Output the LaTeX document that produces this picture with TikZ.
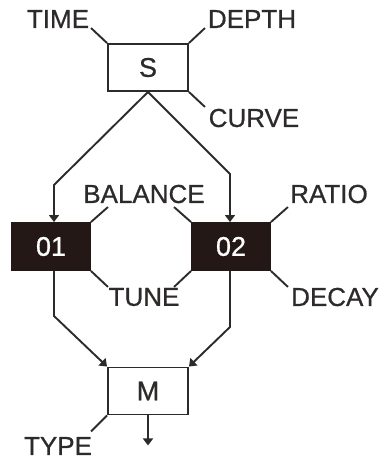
\documentclass[tikz,border=0pt]{standalone}
\usepackage{fontspec}
\setmainfont{Liberation Sans}
\newfontfamily\fxfont[FakeBold=0.7]{Liberation Sans}
\usepackage{xcolor}
\usepackage{tikz}
\usetikzlibrary{arrows.meta,positioning,calc}
\definecolor{fxline}{RGB}{45,42,42}
\definecolor{fxblack}{RGB}{35,24,21}

\begin{document}
\begin{tikzpicture}[x=1pt, y=-1pt,
    unit/.style={rectangle, draw=fxline, line width=1.9pt, fill=white, minimum width=80pt, minimum height=47pt, text=fxline, font=\fxfont\fontsize{27}{30}\selectfont},
    fxbox/.style={rectangle, draw=fxblack, line width=1.9pt, fill=fxblack, minimum width=78pt, minimum height=47pt, text=white, font=\fxfont\fontsize{27}{30}\selectfont},
    param/.style={inner sep=0pt, text=fxline, font=\fxfont\fontsize{26}{30}\selectfont},
    tick/.style={draw=fxline, line width=1.9pt},
    arrow/.style={-{Triangle[length=7pt,width=10pt]}, draw=fxline, line width=1.9pt}]
  \useasboundingbox (0,0) rectangle (383,460);
  % units
  \node[unit] (S) at (148,67.5) {S};
  \node[fxbox] (o1) at (51,246.5) {01};
  \node[fxbox] (o2) at (231,246.5) {02};
  \node[unit] (M) at (148,391) {M};
  % parameter labels
  \node[param] (time) at (58,19) {TIME};
  \node[param] (depth) at (252,19) {DEPTH};
  \node[param] (curve) at (254,118) {CURVE};
  \node[param] (balance) at (144,194) {BALANCE};
  \node[param] (ratio) at (329,194) {RATIO};
  \node[param] (tune) at (144,297) {TUNE};
  \node[param] (decay) at (335,297) {DECAY};
  \node[param] (type) at (58,446) {TYPE};
  % label ticks
  \draw[tick] (S.north west) -- ++(-16,-15) coordinate (kTime);
  \draw[tick] (S.north east) -- ++(16,-15) coordinate (kDepth);
  \draw[tick] (S.south east) -- ++(16,15) coordinate (kCurve);
  \draw[tick] (o1.north east) -- ++(17,-15) coordinate (kBal1);
  \draw[tick] (o2.north west) -- ++(-17,-15) coordinate (kBal2);
  \draw[tick] (o2.north east) -- ++(17,-15) coordinate (kRatio);
  \draw[tick] (o1.south east) -- ++(17,16) coordinate (kTune1);
  \draw[tick] (o2.south west) -- ++(-17,16) coordinate (kTune2);
  \draw[tick] (o2.south east) -- ++(17,16) coordinate (kDecay);
  \draw[tick] (M.south west) -- ++(-16,16) coordinate (kType);
  % signal flow
  \draw[arrow] (S.south) -- ++(-94,93) coordinate (s1) -- (s1 |- o1.north);
  \draw[arrow] (S.south) -- ++(82,82) coordinate (s2) -- (s2 |- o2.north);
  \draw[arrow] (s1 |- o1.south) -- (s1 |- 0,316) -- (M.north west);
  \draw[arrow] (s2 |- o2.south) -- (s2 |- 0,327) -- (M.north east);
  \draw[arrow] (M.south) -- ++(0,30);
\end{tikzpicture}
\end{document}
